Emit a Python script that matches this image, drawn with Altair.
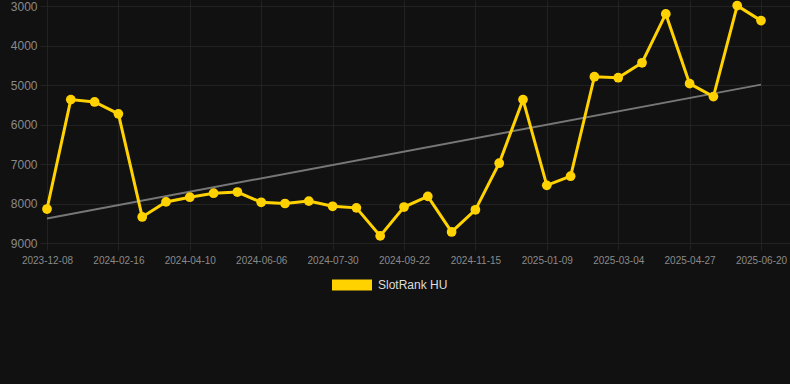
import altair as alt
import pandas as pd

dates = ["2023-12-08", "2023-12-31", "2024-01-23", "2024-02-16", "2024-03-04", "2024-03-22",
         "2024-04-10", "2024-04-29", "2024-05-18", "2024-06-06", "2024-06-24", "2024-07-12",
         "2024-07-30", "2024-08-17", "2024-09-04", "2024-09-22", "2024-10-10", "2024-10-28",
         "2024-11-15", "2024-12-03", "2024-12-21", "2025-01-09", "2025-01-27", "2025-02-14",
         "2025-03-04", "2025-03-22", "2025-04-09", "2025-04-27", "2025-05-15", "2025-06-02",
         "2025-06-20"]
ranks = [8140, 5370, 5430, 5730, 8340, 7960, 7840, 7740, 7710, 7970, 8000, 7940, 8070, 8110,
         8820, 8090, 7820, 8720, 8160, 6980, 5370, 7540, 7310, 4790, 4815, 4437, 3200, 4966,
         5294, 2990, 3370]
trend_ends = [8380, 4990]
series_name = "SlotRank HU"
y_ticks = [3000, 4000, 5000, 6000, 7000, 8000, 9000]

df = pd.DataFrame({"idx": list(range(len(dates))), "date": dates, "rank": ranks,
                   "series": [series_name] * len(dates)})
trend_df = pd.DataFrame({"idx": [0, len(dates) - 1], "rank": trend_ends})

label_expr = "[" + ",".join("'%s'" % d for d in dates) + "][datum.value]"
GOLD = "#FFD200"
FONT = "Liberation Sans"

xscale = alt.Scale(domain=[-0.294, 31.218], nice=False, zero=False)
yscale = alt.Scale(domain=[2848, 9000], reverse=True, nice=False, zero=False)

x_axis = alt.Axis(values=list(range(0, 31, 3)), labelExpr=label_expr, title=None,
                  grid=True, gridColor="#222222", domain=False, ticks=True, tickColor="#222222",
                  tickSize=7, labelColor="#8a8a8a", labelFontSize=10, labelFont=FONT,
                  labelPadding=5, labelOverlap=False)
y_axis = alt.Axis(values=y_ticks, title=None, grid=True, gridColor="#222222", domain=False,
                  ticks=False, labelColor="#8a8a8a", labelFontSize=12, labelFont=FONT,
                  labelPadding=3, format="d")

trend = alt.Chart(trend_df).mark_line(color="#777777", strokeWidth=2).encode(
    x=alt.X("idx:Q", scale=xscale, axis=x_axis),
    y=alt.Y("rank:Q", scale=yscale, axis=y_axis),
)

line = alt.Chart(df).mark_line(color=GOLD, strokeWidth=3).encode(
    x=alt.X("idx:Q", scale=xscale),
    y=alt.Y("rank:Q", scale=yscale),
)

pts = alt.Chart(df).mark_circle(size=95, opacity=1).encode(
    x=alt.X("idx:Q", scale=xscale),
    y=alt.Y("rank:Q", scale=yscale),
    color=alt.Color("series:N", scale=alt.Scale(domain=[series_name], range=[GOLD]),
                    legend=alt.Legend(title=None, orient="none", legendX=292, legendY=265,
                                      direction="horizontal",
                                      symbolType="M-1,-0.28L1,-0.28L1,0.28L-1,0.28Z",
                                      symbolSize=1600, symbolOpacity=1, symbolStrokeWidth=0,
                                      labelColor="#dddddd", labelFontSize=12, labelFont=FONT,
                                      labelOffset=6)),
)

chart = alt.layer(trend, line, pts).properties(
    width=750, height=243,
    background="#111111",
    padding={"left": 40, "top": 0, "right": 0, "bottom": 141},
    autosize=alt.AutoSizeParams(type="none"),
).configure_view(stroke=None)

chart.save("out.html", embed_options={"renderer": "svg", "actions": False})
